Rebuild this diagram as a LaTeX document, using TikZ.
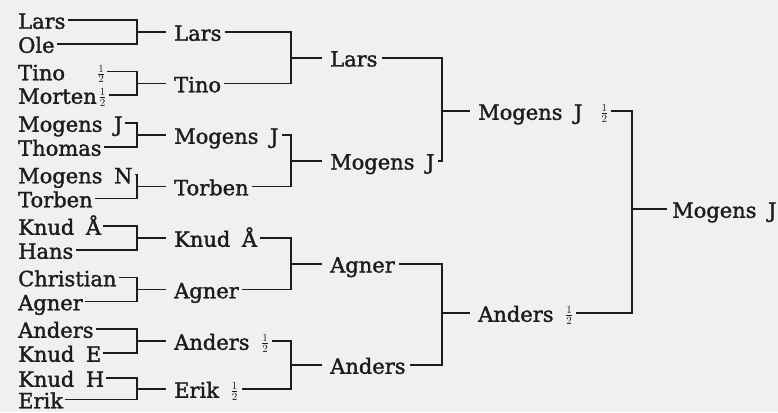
\documentclass[tikz,border=0pt]{standalone}
\usepackage{fontspec}
\setmainfont{DejaVu Serif}
\newfontfamily\inkfont{DejaVu Serif}[FakeBold=1.5]
\definecolor{ink}{RGB}{28,28,28}
\definecolor{paper}{RGB}{240,240,238}
\newcommand\hf{\raisebox{2.5pt}[0pt][0pt]{$\scriptstyle\frac{1}{2}$}}
\newcommand\wsp{\hspace{0.55em}}
\tikzset{
  nm/.style={anchor=west, inner sep=0pt, text height=17.5pt, text depth=0pt,
             font=\inkfont\fontsize{21}{23}\selectfont, text=ink},
  ln/.style={line width=1.8pt, draw=ink, line join=miter},
  stub/.style={ln, shorten >=8pt},
}
\begin{document}
\begin{tikzpicture}[x=1pt,y=-1pt]
\fill[paper] (0,0) rectangle (778,412);
\useasboundingbox (0,0) rectangle (778,412);
% round 0
\node[nm] (a1) at (18,20) {Lars};
\node[nm] (a2) at (18,44) {Ole};
\node[nm] (a3) at (18,71.5) {Tino\hspace{32pt}\hf};
\node[nm] (a4) at (18,95) {Morten\hspace{2pt}\hf};
\node[nm] (a5) at (18,123) {Mogens\wsp J};
\node[nm] (a6) at (18,147) {Thomas};
\node[nm] (a7) at (18,174.5) {Mogens\wsp N};
\node[nm] (a8) at (18,198.5) {Torben};
\node[nm] (a9) at (18,226) {Knud\wsp Å};
\node[nm] (a10) at (18,250) {Hans};
\node[nm] (a11) at (18,277.5) {Christian};
\node[nm] (a12) at (18,301.5) {Agner};
\node[nm] (a13) at (18,329) {Anders};
\node[nm] (a14) at (18,353) {Knud\wsp E};
\node[nm] (a15) at (18,378) {Knud\wsp H};
\node[nm] (a16) at (18,399.5) {Erik};
% round 1
\node[nm] (c1) at (174,32) {Lars};
\node[nm] (c2) at (174,83.5) {Tino};
\node[nm] (c3) at (174,135) {Mogens\wsp J};
\node[nm] (c4) at (174,186.5) {Torben};
\node[nm] (c5) at (174,238) {Knud\wsp Å};
\node[nm] (c6) at (174,289.5) {Agner};
\node[nm] (c7) at (174,341) {Anders\wsp\hf};
\node[nm] (c8) at (174,389) {Erik\wsp\hf};
% round 2
\node[nm] (e1) at (330,57.75) {Lars};
\node[nm] (e2) at (330,160.75) {Mogens\wsp J};
\node[nm] (e3) at (330,263.75) {Agner};
\node[nm] (e4) at (330,365) {Anders};
% round 3
\node[nm] (g1) at (478,111) {Mogens\wsp J\hspace{18pt}\hf};
\node[nm] (g2) at (478,313) {Anders\wsp\hf};
% final
\node[nm] (w) at (672,209) {Mogens\wsp J};
% bracket joints
\foreach \i/\y in {1/32,2/83.5,3/135,4/186.5,5/238,6/289.5,7/341,8/389}
  \coordinate (b\i) at (137,\y);
\foreach \i/\y in {1/57.75,2/160.75,3/263.75,4/365}
  \coordinate (d\i) at (291,\y);
\coordinate (f1) at (442,111);
\coordinate (f2) at (442,313);
\coordinate (h) at (632,209);
% round 0 brackets
\foreach \i in {1,...,8}{
  \pgfmathtruncatemacro\t{2*\i-1}
  \pgfmathtruncatemacro\u{2*\i}
  \draw[ln] ([xshift=2pt]a\t.east) -| (b\i) |- ([xshift=2pt]a\u.east);
  \draw[stub] (b\i) -- (c\i.west);
}
% round 1 brackets
\foreach \i in {1,...,4}{
  \pgfmathtruncatemacro\t{2*\i-1}
  \pgfmathtruncatemacro\u{2*\i}
  \draw[ln] ([xshift=3pt]c\t.east) -| (d\i) |- ([xshift=3pt]c\u.east);
  \draw[stub] (d\i) -- (e\i.west);
}
% round 2 brackets
\draw[ln] ([xshift=4pt]e1.east) -| (f1) |- ([xshift=3pt]e2.east);
\draw[stub] (f1) -- (g1.west);
\draw[ln] ([xshift=4pt]e3.east) -| (f2) |- ([xshift=4pt]e4.east);
\draw[stub] (f2) -- (g2.west);
% final bracket
\draw[ln] ([xshift=2pt]g1.east) -| (h) |- ([xshift=3pt]g2.east);
\draw[stub, shorten >=5pt] (h) -- (w.west);
\end{tikzpicture}
\end{document}
